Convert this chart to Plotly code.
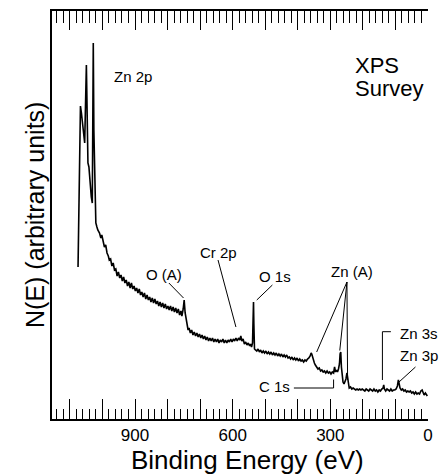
import plotly.graph_objects as go

# ---- spectrum (binding energy in eV, intensity in arbitrary units) ----
binding_energy = [
    1075, 1067.6, 1064.6, 1059.8, 1056.7, 1054.6, 1049.4, 1047.6, 1044.6, 1041.6,
    1039.4, 1034.3, 1031.2, 1028.2, 1026.4, 1024.3, 1022.1, 1020.3, 1017, 1014.3,
    1009, 1005, 1002, 998, 994, 990, 986, 982, 979, 975, 971, 967, 963, 959, 955,
    951, 947, 943, 939, 935, 931, 927, 923, 919, 915, 911, 907, 903, 899, 895, 891,
    887, 883, 879, 875, 871, 867, 863, 859, 855, 851, 847, 843, 839, 835, 831, 827,
    823, 819, 815, 811, 807, 803, 799, 795, 791, 787, 783, 779, 775, 771, 767, 763,
    759, 756, 752, 749, 746, 743, 740, 737, 734, 730, 726, 722, 718, 714, 710, 706,
    702, 698, 694, 690, 686, 682, 678, 674, 670, 666, 662, 658, 654, 650, 646, 642,
    638, 634, 630, 626, 622, 618, 614, 610, 606, 602, 598, 594, 590, 586, 582, 578,
    575, 572, 568, 564, 560, 556, 552, 548, 545, 542, 539, 537, 536, 535, 533, 530,
    526, 522, 518, 514, 510, 506, 502, 498, 494, 490, 486, 482, 478, 474, 470, 466,
    462, 458, 454, 450, 446, 442, 438, 434, 430, 426, 422, 418, 414, 410, 406, 402,
    398, 394, 390, 386, 382, 378, 374, 370, 366, 362, 359, 357, 355, 352, 349, 346,
    342, 338, 334, 330, 326, 322, 318, 314, 310, 306, 302, 298, 294, 290, 287, 284,
    281, 278, 275, 272, 270, 268, 266, 264, 261, 258, 255, 252, 249, 247, 245, 242,
    238, 234, 230, 226, 222, 218, 214, 210, 206, 202, 198, 194, 190, 186, 182, 178,
    174, 170, 166, 162, 158, 154, 150, 146, 142, 138, 136, 134, 130, 126, 122, 118,
    114, 110, 106, 102, 98, 94, 91, 89, 86, 82, 78, 74, 70, 66, 62, 58, 54, 50, 46,
    42, 38, 34, 30, 26, 22, 18, 15, 12, 8, 4, 2,
]
intensity = [
    152, 313, 306, 289, 279, 276, 354, 289, 256, 252,
    242, 222, 216, 376, 289, 239, 216, 196, 192, 189,
    186, 181, 184, 176, 172, 174, 166, 163, 159, 160, 153, 156, 149, 150, 143,
    147, 141, 144, 138, 142, 136, 139, 133, 137, 131, 136, 130, 133, 128, 131, 126,
    130, 124, 127, 122, 126, 120, 124, 119, 122, 117, 121, 116, 120, 115, 118, 113,
    117, 112, 116, 111, 115, 110, 113, 109, 113, 108, 112, 107, 111, 106, 110, 104,
    108, 103, 110, 119, 106, 100, 94, 89, 91, 86, 89, 84, 87, 83, 86, 82,
    85, 81, 84, 80, 83, 79, 82, 78, 81, 78, 81, 77, 80, 77, 80, 76,
    79, 77, 80, 76, 79, 76, 79, 77, 80, 77, 80, 78, 81, 78, 81, 79,
    83, 78, 80, 75, 77, 74, 76, 73, 75, 72, 76, 95, 117, 96, 70, 69,
    68, 70, 67, 69, 66, 68, 66, 68, 65, 67, 65, 67, 64, 66, 64, 66,
    63, 65, 63, 65, 62, 64, 62, 64, 61, 62, 60, 62, 59, 61, 59, 61,
    58, 60, 58, 59, 57, 59, 58, 60, 61, 63, 66, 65, 62, 59, 56, 54,
    52, 50, 51, 48, 49, 47, 48, 46, 48, 46, 47, 45, 47, 46, 52, 47,
    49, 47, 50, 55, 65, 67, 52, 41, 37, 35, 38, 40, 46, 40, 34, 31,
    32, 30, 31, 30, 29, 30, 29, 30, 29, 30, 29, 28, 30, 29, 28, 30,
    29, 28, 30, 28, 29, 27, 29, 28, 30, 31, 34, 30, 28, 30, 29, 28,
    30, 28, 29, 29, 30, 33, 39, 36, 31, 29, 30, 28, 29, 27, 28, 27, 28, 26, 27,
    25, 27, 25, 26, 25, 28, 29, 26, 24, 26, 24, 23,
]

# ---- peak labels: (text, binding energy, intensity, x anchor) ----
label_text = ["Zn 2p", "O (A)", "Cr 2p", "O 1s", "Zn (A)", "C 1s", "Zn 3s", "Zn 3p", "XPS", "Survey"]
label_x = [905, 812, 645, 469, 234, 472, 91, 91, 229, 229]
label_y = [343, 145, 167, 143, 148, 32.5, 86, 64, 354, 331]
label_anchor = ["center", "center", "center", "center", "center", "center", "left", "left", "left", "left"]
label_size = [15, 15, 15, 15, 15, 15, 15, 15, 22, 22]

# ---- leader lines (polylines in eV / intensity) ----
leader_x = [
    [796, 751], [645, 590], [478, 526],
    [249, 342], [249, 271], [249, 247],
    [412, 290, 290], [114, 140, 140], [38.5, 89],
]
leader_y = [
    [136, 121], [159, 92], [134, 119],
    [137, 67], [137, 68.5], [137, 39],
    [31, 31, 39.5], [87.3, 87.3, 39], [52, 37],
]

major_vals = [0, 100, 200, 300, 400, 500, 600, 700, 800, 900, 1000, 1100]
major_text = ["0", "", "", "300", "", "", "600", "", "", "900", "", ""]

FONT = "Liberation Sans, Arial, Helvetica, sans-serif"

fig = go.Figure()
fig.add_trace(go.Scatter(x=binding_energy, y=intensity, mode="lines",
                         line=dict(color="black", width=1.6), showlegend=False,
                         hoverinfo="skip"))
# invisible trace so the top axis is drawn
fig.add_trace(go.Scatter(x=[binding_energy[0]], y=[intensity[0]], xaxis="x2",
                         mode="markers", marker=dict(opacity=0), showlegend=False,
                         hoverinfo="skip"))

for lx, ly in zip(leader_x, leader_y):
    fig.add_trace(go.Scatter(x=lx, y=ly, mode="lines", line=dict(color="black", width=1),
                             showlegend=False, hoverinfo="skip"))

annotations = []
for t, x, y, a, s in zip(label_text, label_x, label_y, label_anchor, label_size):
    annotations.append(dict(text=t, x=x, y=y, xref="x", yref="y", xanchor=a,
                            yanchor="middle", showarrow=False,
                            font=dict(family=FONT, size=s, color="black")))

annotations.append(dict(text="Binding Energy (eV)", xref="paper", yref="paper",
                        x=0.521, y=0, yshift=-41, xanchor="center", yanchor="middle",
                        showarrow=False, font=dict(family=FONT, size=26, color="black")))
annotations.append(dict(text="N(E) (arbitrary units)", xref="paper", yref="paper",
                        x=0, y=0.5, xshift=-17, xanchor="center", yanchor="middle",
                        textangle=-90, showarrow=False,
                        font=dict(family=FONT, size=25, color="black")))

axis_common = dict(range=[1155, 0], showgrid=False, zeroline=False, showline=True,
                   linecolor="black", linewidth=2, ticks="inside", tickcolor="black",
                   tickwidth=1, tickmode="array", tickvals=major_vals)

fig.update_layout(
    width=442, height=475,
    margin=dict(l=52, r=9, t=11, b=56),
    paper_bgcolor="white", plot_bgcolor="white",
    font=dict(family=FONT, color="black"),
    xaxis=dict(**axis_common, ticklen=20, ticktext=major_text,
               tickfont=dict(family=FONT, size=17, color="black"),
               minor=dict(tickmode="linear", tick0=0, dtick=20, ticklen=10,
                          ticks="inside", tickcolor="black", tickwidth=1)),
    xaxis2=dict(**axis_common, ticklen=19, side="top", overlaying="x",
                showticklabels=False,
                minor=dict(tickmode="linear", tick0=0, dtick=20, ticklen=12,
                           ticks="inside", tickcolor="black", tickwidth=1)),
    yaxis=dict(range=[0, 408], showgrid=False, zeroline=False, showline=True,
               linecolor="black", linewidth=2, ticks="", showticklabels=False),
    annotations=annotations,
)

fig.write_html("out.html",
               config={"displayModeBar": False, "staticPlot": True},
               post_script="document.body.style.margin='0px';"
                           "document.body.style.overflow='hidden';")
